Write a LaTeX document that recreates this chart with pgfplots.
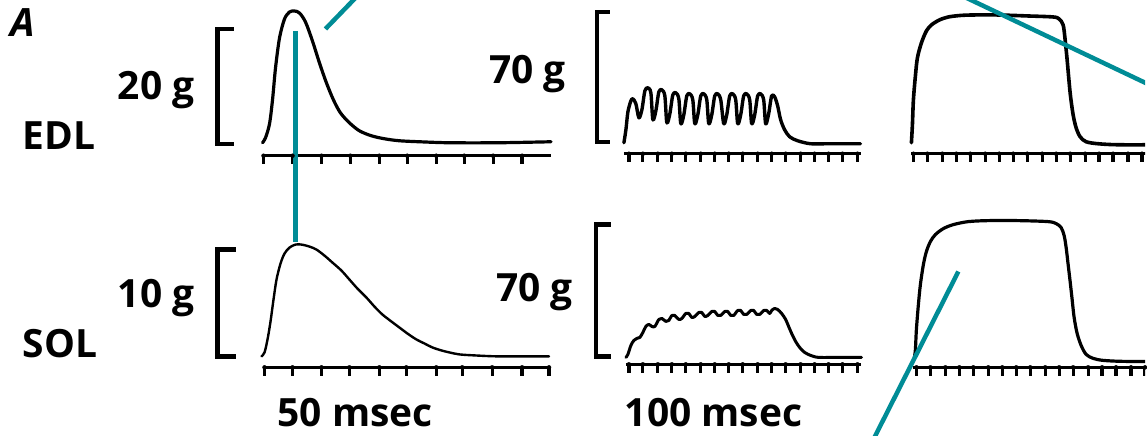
\documentclass[border=0pt]{standalone}
\usepackage{pgfplots}
\pgfplotsset{compat=1.18}
\usepackage{fontspec}
\setmainfont{Open Sans}
\definecolor{tealline}{RGB}{0,140,150}
\newcommand\lab{\fontsize{39}{42}\selectfont\bfseries}
\tikzset{lbl/.style={anchor=base west, inner sep=0pt, outer sep=0pt, font=\lab}}

\begin{document}
\begin{tikzpicture}
\begin{axis}[
    width=1147pt, height=436pt, scale only axis,
    xmin=0, xmax=1147, ymin=0, ymax=436,
    y dir=reverse,
    axis line style={draw=none}, ticks=none,
    clip=true,
    trace/.style={black, smooth, line join=round, line cap=round},
    bracket/.style={black, line width=4.5pt, line join=miter},
    timebar/.style={black, line width=3pt},
    ticks/.style={black, only marks, mark=none,
        error bars/.cd, y dir=plus, y fixed=8.5, error mark=none,
        error bar style={line width=3.2pt, black}},
    annot/.style={tealline, line width=4.5pt},
]

% ---- EDL row ----
% twitch
\addplot[trace, line width=3.2pt] coordinates {
 (263,143) (266,138) (270,124) (273,100) (276,68) (280,38) (285,19) (290,12) (295,11)
 (300,13) (306,22) (313,41) (320,63) (327,83) (334,100) (341,113) (350,123) (360,131)
 (372,136) (385,139) (400,141) (420,142) (450,143) (500,143) (552,142)};
\addplot[timebar] coordinates {(263,156) (552,156)};
\addplot[ticks] coordinates {(264,156) (293,156) (322,156) (351,156) (380,156) (408,156)
 (437,156) (465,156) (494,156) (523,156)};
\addplot[bracket] coordinates {(234,29) (218,29) (218,144) (234,144)};

% tetanus, unfused
\addplot[trace, line width=3.4pt, tension=0.5] coordinates {
 (625,143) (627,130) (629,112) (632,101) (634,99) (637,104) (640,118)
 (643,110) (646,91) (649,88) (652,93) (654,120)
 (657,111) (660,92) (663,90) (666,96) (668,123)
 (671,114) (674,95) (677,93) (680,99) (682,124)
 (685,115) (688,96) (691,94) (694,100) (696,124)
 (699,115) (702,96) (705,94) (708,100) (710,124)
 (713,115) (716,96) (719,94) (722,100) (725,124)
 (728,115) (731,96) (734,94) (737,100) (739,124)
 (742,115) (745,96) (748,94) (751,100) (753,124)
 (756,115) (759,96) (762,94) (765,100) (767,124)
 (770,114) (773,96) (776,97) (779,106) (782,120) (786,130) (791,137) (799,141)
 (812,144) (830,144) (862,144)};
\addplot[timebar] coordinates {(625,154) (862,154)};
\addplot[ticks] coordinates {(630,154) (644,154) (659,154) (673,154) (687,154) (702,154)
 (716,154) (730,154) (744,154) (759,154) (773,154) (787,154) (802,154) (816,154)
 (830,154) (844,154) (859,154)};
\addplot[bracket] coordinates {(611,12) (598,12) (598,142) (611,142)};

% tetanus, fused
\addplot[trace, line width=3.6pt] coordinates {
 (913,143) (914,125) (915,100) (917,76) (919,58) (923,43) (928,31) (933,25) (941,20)
 (950,17) (962,15.5) (975,15) (1000,15) (1030,16) (1055,17) (1061,19) (1065,25)
 (1067,40) (1069,60) (1072,93) (1075,115) (1078,128) (1082,137) (1088,142) (1100,144)
 (1120,145) (1160,145)};
\addplot[timebar] coordinates {(913,154) (1160,154)};
\addplot[ticks] coordinates {(915,154) (929,154) (944,154) (958,154) (972,154) (987,154)
 (1001,154) (1015,154) (1029,154) (1044,154) (1058,154) (1072,154) (1087,154)
 (1101,154) (1115,154) (1130,154) (1144,154)};

% ---- SOL row ----
% twitch
\addplot[trace, line width=2.4pt] coordinates {
 (262,357) (265,353) (268,340) (271,322) (274,300) (277,280) (281,264) (285,254)
 (290,248) (296,245) (302,245) (310,247) (317,250) (325,256) (333,263) (342,271)
 (350,280) (358,289) (367,298) (375,307) (383,315) (392,322) (400,328) (408,334)
 (417,340) (425,344) (433,348) (442,351) (450,353) (460,355) (475,356) (500,357)
 (550,357)};
\addplot[timebar, line width=2.4pt] coordinates {(263,368) (550,368)};
\addplot[ticks] coordinates {(265,368) (293,368) (322,368) (350,368)
 (380,368) (407,368) (437,368) (463,368) (493,368) (523,368) (550,368)};
\addplot[bracket] coordinates {(236,250) (218,250) (218,357) (236,357)};

% tetanus, unfused
\addplot[trace, line width=3pt, tension=0.5] coordinates {
 (627,358) (629,355) (632,346) (635,341) (638,339) (641,338) (644,333) (647,327)
 (650,325) (653,327) (656,327) (660,320) (663,319) (667,322) (670,321) (673,316)
 (676,316) (680,320) (683,319) (687,314) (690,314) (693,318) (696,317) (700,313)
 (703,313) (706,317) (709,316) (713,312) (716,312) (719,316) (722,316) (726,312)
 (729,312) (732,316) (735,316) (739,311) (742,311) (745,315) (748,315) (752,311)
 (755,311) (758,315) (761,315) (765,311) (768,311) (771,314) (773,311) (776,309)
 (779,310) (783,314) (787,320) (790,327) (793,334) (797,342) (801,348) (806,353)
 (812,356) (820,358) (840,358) (863,358)};
\addplot[timebar] coordinates {(627,365) (862,365)};
\addplot[ticks] coordinates {(630,365) (644,365) (659,365) (673,365) (687,365) (702,365)
 (716,365) (730,365) (744,365) (759,365) (773,365) (787,365) (802,365) (816,365)
 (830,365) (844,365) (859,365)};
\addplot[bracket] coordinates {(612,225) (597,225) (597,357) (612,357)};

% tetanus, fused
\addplot[trace, line width=3.2pt] coordinates {
 (916,358) (917,350) (918,330) (920,305) (922,285) (925,265) (928,252) (932,242)
 (937,235) (945,229) (955,225) (970,222) (990,221) (1020,221) (1050,222) (1058,224)
 (1063,228) (1066,236) (1068,248) (1070,265) (1072,282) (1074,300) (1076,318)
 (1079,334) (1083,346) (1088,355) (1095,359) (1105,361) (1125,362) (1160,362)};
\addplot[timebar] coordinates {(915,368) (1160,368)};
\addplot[ticks] coordinates {(918,368) (932,368) (947,368) (961,368) (975,368) (990,368)
 (1004,368) (1018,368) (1032,368) (1047,368) (1061,368) (1075,368) (1090,368)
 (1104,368) (1118,368) (1133,368) (1147,368)};

% ---- teal annotation lines ----
\addplot[annot] coordinates {(296,31) (296,242)};
\addplot[annot] coordinates {(326,29) (357,-3)};
\addplot[annot] coordinates {(960,-6) (1160,89)};
\addplot[annot] coordinates {(960,272) (872,446)};

% ---- labels ----
\node[lbl, font=\lab\itshape] at (axis cs:11,37) {A};
\node[lbl] at (axis cs:118,100) {20 g};
\node[lbl] at (axis cs:23,150) {EDL};
\node[lbl] at (axis cs:490,84) {70 g};
\node[lbl] at (axis cs:118,308) {10 g};
\node[lbl] at (axis cs:23,358) {SOL};
\node[lbl] at (axis cs:497,302) {70 g};
\node[lbl] at (axis cs:278,427) {50 msec};
\node[lbl] at (axis cs:626,427) {100 msec};
\end{axis}
\end{tikzpicture}
\end{document}
